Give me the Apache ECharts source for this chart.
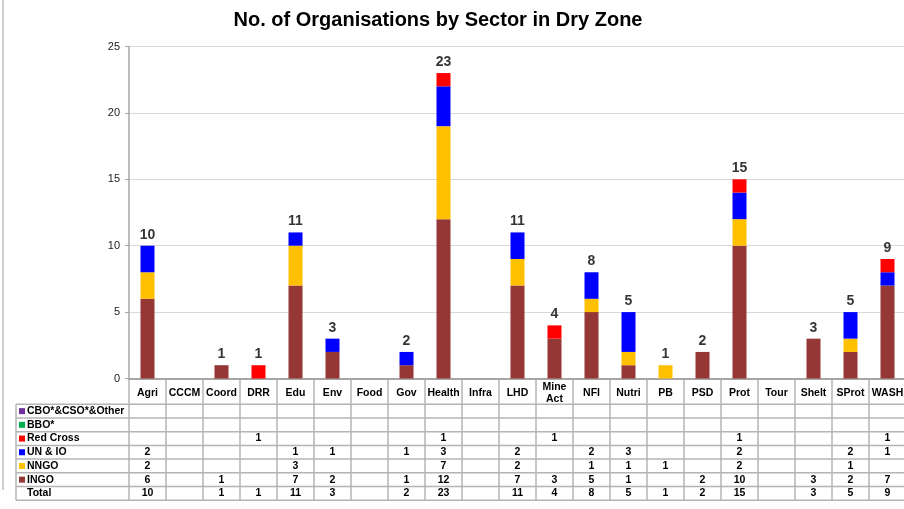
<!DOCTYPE html>
<html>
<head>
<meta charset="utf-8">
<script src="https://cdn.jsdelivr.net/npm/echarts@6/dist/echarts.min.js"></script>
<style>
html, body { margin: 0; padding: 0; background: #fff; }
#container { width: 904px; height: 509px; }
</style>
</head>
<body>
<div id="container"></div>
<script>
// categories + values
var sectors = ["Agri", "CCCM", "Coord", "DRR", "Edu", "Env", "Food", "Gov", "Health", "Infra", "LHD",
  "Mine\nAct", "NFI", "Nutri", "PB", "PSD", "Prot", "Tour", "Shelt", "SProt", "WASH"];
var ingo = [6, null, 1, null, 7, 2, null, 1, 12, null, 7, 3, 5, 1, null, 2, 10, null, 3, 2, 7];
var nngo = [2, null, null, null, 3, null, null, null, 7, null, 2, null, 1, 1, 1, null, 2, null, null, 1, null];
var unIo = [2, null, null, null, 1, 1, null, 1, 3, null, 2, null, 2, 3, null, null, 2, null, null, 2, 1];
var redCross = [null, null, null, 1, null, null, null, null, 1, null, null, 1, null, null, null, null, 1, null, null, null, 1];
var bbo = [null, null, null, null, null, null, null, null, null, null, null, null, null, null, null, null, null, null, null, null, null];
var cboCsoOther = [null, null, null, null, null, null, null, null, null, null, null, null, null, null, null, null, null, null, null, null, null];
var totals = [10, null, 1, 1, 11, 3, null, 2, 23, null, 11, 4, 8, 5, 1, 2, 15, null, 3, 5, 9];

// stack order bottom -> top
var groups = [
  { name: "INGO", data: ingo, color: "#953735" },
  { name: "NNGO", data: nngo, color: "#FFC000" },
  { name: "UN & IO", data: unIo, color: "#0000FF" },
  { name: "Red Cross", data: redCross, color: "#FF0000" },
  { name: "BBO*", data: bbo, color: "#00B050" },
  { name: "CBO*&CSO*&Other", data: cboCsoOther, color: "#7030A0" }
];

var FONT = "'Liberation Sans', Arial, sans-serif";
var TABLE_FONT = "bold 10.5px " + FONT;
var gridLeft = 129, gridTop = 46.5, axisY = 378.5;

var series = groups.map(function (g) {
  return {
    name: g.name,
    type: "bar",
    stack: "org",
    barWidth: 14,
    data: g.data,
    itemStyle: { color: g.color }
  };
});
series.push({
  name: "Total",
  type: "scatter",
  data: totals,
  symbolSize: 0,
  silent: true,
  label: {
    show: true,
    position: "top",
    distance: 4,
    color: "#000",
    fontWeight: "bold",
    fontSize: 14,
    fontFamily: FONT
  }
});

var option = {
  backgroundColor: "#fff",
  animation: false,
  title: {
    text: "No. of Organisations by Sector in Dry Zone",
    left: 433,
    top: 5,
    textAlign: "center",
    textStyle: { fontSize: 20, fontWeight: "bold", color: "#000", fontFamily: FONT }
  },
  grid: {
    left: gridLeft,
    right: -2,
    top: gridTop,
    bottom: 509 - axisY,
    containLabel: false,
    outerBoundsMode: "none"
  },
  xAxis: {
    type: "category",
    data: sectors,
    axisLine: { lineStyle: { color: "#a6a6a6", width: 2 } },
    axisTick: { show: false },
    axisLabel: {
      interval: 0,
      margin: 14.5,
      verticalAlign: "middle",
      color: "#000",
      fontWeight: "bold",
      fontSize: 10.5,
      lineHeight: 12,
      fontFamily: FONT
    }
  },
  yAxis: {
    type: "value",
    min: 0,
    max: 25,
    interval: 5,
    axisLine: { show: true, lineStyle: { color: "#a6a6a6", width: 1.5 } },
    axisTick: { show: true, length: 4, lineStyle: { color: "#a6a6a6" } },
    axisLabel: { color: "#222", fontSize: 11, margin: 9, fontFamily: FONT },
    splitLine: { lineStyle: { color: "#d9d9d9" } }
  },
  series: series
};

var chart = echarts.init(document.getElementById("container"));
chart.setOption(option);

// data table under the axis
var colW = chart.convertToPixel({ xAxisIndex: 0 }, 1) - chart.convertToPixel({ xAxisIndex: 0 }, 0);
var rowTop = 404.3, rowH = 13.7, tableLeft = 16;
var lineCol = "#b4b4b4";
var els = [];
var rows = groups.slice().reverse();
var nRows = rows.length + 1;
var tableBottom = rowTop + nRows * rowH;
var tableRight = chart.convertToPixel({ xAxisIndex: 0 }, sectors.length - 1) + colW / 2;

function hLine(y, x1, x2) {
  els.push({ type: "line", shape: { x1: x1, y1: y, x2: x2, y2: y }, style: { stroke: lineCol, lineWidth: 1.5 }, silent: true });
}
function vLine(x, y1, y2) {
  els.push({ type: "line", shape: { x1: x, y1: y1, x2: x, y2: y2 }, style: { stroke: lineCol, lineWidth: 1.5 }, silent: true });
}
function cellText(txt, x, y, align) {
  els.push({ type: "text", style: { text: txt, x: x, y: y, font: TABLE_FONT, fill: "#000", textAlign: align, textVerticalAlign: "middle" }, silent: true });
}

for (var r = 0; r <= nRows; r++) hLine(rowTop + r * rowH, tableLeft, tableRight);
vLine(tableLeft, rowTop, tableBottom);
for (var c = 0; c <= sectors.length; c++) {
  var bx = chart.convertToPixel({ xAxisIndex: 0 }, 0) - colW / 2 + c * colW;
  vLine(bx, axisY, tableBottom);
}

rows.forEach(function (g, i) {
  var cy = rowTop + i * rowH + rowH / 2;
  els.push({ type: "rect", shape: { x: 19, y: cy - 3, width: 6, height: 6 }, style: { fill: g.color }, silent: true });
  cellText(g.name, 27, cy, "left");
  g.data.forEach(function (v, k) {
    if (v == null) return;
    cellText(String(v), chart.convertToPixel({ xAxisIndex: 0 }, k), cy, "center");
  });
});
var ty = rowTop + rows.length * rowH + rowH / 2;
cellText("Total", 27, ty, "left");
totals.forEach(function (v, k) {
  if (v == null) return;
  cellText(String(v), chart.convertToPixel({ xAxisIndex: 0 }, k), ty, "center");
});

// grey frame edge on the left
els.push({ type: "rect", shape: { x: 2, y: 0, width: 2, height: 490 }, style: { fill: "#cfcfcf" }, silent: true });

chart.setOption({ graphic: els });
</script>
</body>
</html>
